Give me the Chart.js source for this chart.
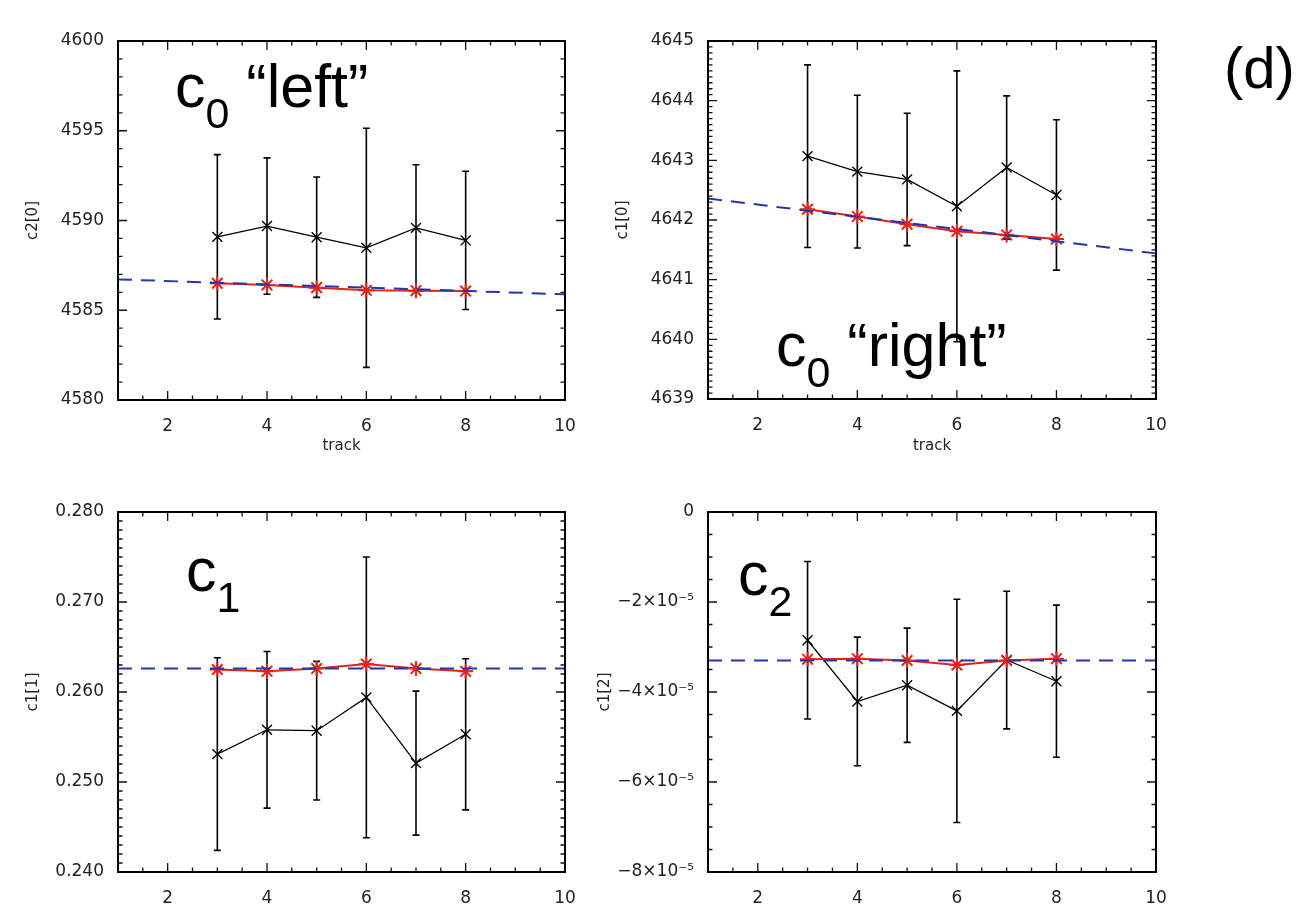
<!DOCTYPE html>
<html>
<head>
<meta charset="utf-8">
<title>track fits (d)</title>
<script src="https://cdn.jsdelivr.net/npm/chart.js@4.4.1/dist/chart.umd.min.js"></script>
<style>
  body { margin: 0; background: #fff; }
  #wrap { position: relative; width: 1306px; height: 909px; overflow: hidden; background: #fff; }
  canvas { position: absolute; }
  .note { position: absolute; font-family: "Liberation Sans", Arial, sans-serif; font-size: 61px; line-height: 1; color: #000; white-space: nowrap; }
  .note sub { font-size: 43px; vertical-align: -21px; line-height: 1; }
</style>
</head>
<body>
<div id="wrap">
  <canvas id="p1" width="600" height="470" style="left:0;top:0"></canvas>
  <canvas id="p2" width="736" height="470" style="left:570px;top:0"></canvas>
  <canvas id="p3" width="600" height="439" style="left:0;top:470px"></canvas>
  <canvas id="p4" width="736" height="439" style="left:570px;top:470px"></canvas>
  <div class="note" style="left:175px;top:56px">c<sub>0</sub> “left”</div>
  <div class="note" style="left:776px;top:315px">c<sub>0</sub> “right”</div>
  <div class="note" style="left:186px;top:540px">c<sub>1</sub></div>
  <div class="note" style="left:738px;top:544px">c<sub>2</sub></div>
  <div class="note" style="left:1224px;top:39px;font-size:58px">(d)</div>
</div>
<script>
Chart.defaults.font.family = "'DejaVu Sans', sans-serif"
Chart.defaults.color = '#222'

// shared x values
const tracks = [3, 4, 5, 6, 7, 8]
const lineX = [1, 10]
const xTicks = [2, 4, 6, 8, 10]

// c2[0]  (c0 "left")
const leftMeas = [4589.09, 4589.69, 4589.07, 4588.48, 4589.59, 4588.89]
const leftErr = [4.58, 3.80, 3.35, 6.66, 3.52, 3.85]
const leftFit = [4586.50, 4586.41, 4586.26, 4586.11, 4586.09, 4586.07]
const leftLine = [4586.72, 4585.89]
const leftTicks = [4580, 4585, 4590, 4595, 4600]

// c1[0]  (c0 "right")
const rightMeas = [4643.07, 4642.81, 4642.68, 4642.23, 4642.88, 4642.42]
const rightErr = [1.53, 1.28, 1.11, 2.27, 1.20, 1.26]
const rightFit = [4642.18, 4642.06, 4641.93, 4641.81, 4641.75, 4641.68]
const rightLine = [4642.36, 4641.44]
const rightTicks = [4639, 4640, 4641, 4642, 4643, 4644, 4645]

// c1[1]
const c1Meas = [0.2531, 0.2558, 0.2557, 0.2594, 0.2521, 0.2553]
const c1Err = [0.0107, 0.0087, 0.0077, 0.0156, 0.0080, 0.0084]
const c1Fit = [0.2625, 0.2623, 0.2626, 0.2631, 0.2626, 0.2623]
const c1Line = [0.2626, 0.2626]
const c1Ticks = [0.240, 0.250, 0.260, 0.270, 0.280]

// c1[2]
const c2Meas = [-2.85e-5, -4.21e-5, -3.85e-5, -4.42e-5, -3.29e-5, -3.76e-5]
const c2Err = [1.75e-5, 1.43e-5, 1.27e-5, 2.48e-5, 1.53e-5, 1.69e-5]
const c2Fit = [-3.27e-5, -3.26e-5, -3.30e-5, -3.40e-5, -3.30e-5, -3.26e-5]
const c2Line = [-3.30e-5, -3.30e-5]
const c2Ticks = [-8e-5, -6e-5, -4e-5, -2e-5, 0]
const c2Labels = ['−8×10⁻⁵', '−6×10⁻⁵', '−4×10⁻⁵', '−2×10⁻⁵', '0']

// box + inward ticks on all four sides (IDL look)
const frame = p => ({
  id: 'frame',
  afterDraw(chart) {
    const {ctx, chartArea: a, scales: {x, y}} = chart
    ctx.save()
    ctx.strokeStyle = '#111'
    ctx.lineWidth = 1.3
    ctx.beginPath()
    const nx = Math.round((x.max - x.min) / 0.5)
    for (let i = 1; i < nx; i++) {
      const v = x.min + i * 0.5
      const len = xTicks.includes(v) ? 9 : 4.5
      const px = x.getPixelForValue(v)
      ctx.moveTo(px, a.bottom); ctx.lineTo(px, a.bottom - len)
      ctx.moveTo(px, a.top); ctx.lineTo(px, a.top + len)
    }
    const ny = Math.round((y.max - y.min) / p.minor)
    for (let i = 1; i < ny; i++) {
      const v = y.min + i * p.minor
      const major = p.ticks.some(t => Math.abs(t - v) < p.minor / 10)
      const len = major ? 9 : 4.5
      const py = y.getPixelForValue(v)
      ctx.moveTo(a.left, py); ctx.lineTo(a.left + len, py)
      ctx.moveTo(a.right, py); ctx.lineTo(a.right - len, py)
    }
    ctx.stroke()
    ctx.lineWidth = 2
    ctx.strokeStyle = '#000'
    ctx.strokeRect(a.left, a.top, a.width, a.height)
    ctx.restore()
  }
})

const errbars = p => ({
  id: 'errbars',
  beforeDatasetsDraw(chart) {
    const {ctx, scales: {x, y}} = chart
    ctx.save()
    ctx.strokeStyle = '#000'
    ctx.lineWidth = 1.6
    ctx.beginPath()
    tracks.forEach((t, i) => {
      const px = x.getPixelForValue(t)
      const top = y.getPixelForValue(p.meas[i] + p.err[i])
      const bot = y.getPixelForValue(p.meas[i] - p.err[i])
      ctx.moveTo(px, top); ctx.lineTo(px, bot)
      ctx.moveTo(px - 3.5, top); ctx.lineTo(px + 3.5, top)
      ctx.moveTo(px - 3.5, bot); ctx.lineTo(px + 3.5, bot)
    })
    ctx.stroke()
    ctx.restore()
  }
})

function makePanel(id, p) {
  return new Chart(document.getElementById(id), {
    type: 'line',
    data: {
      datasets: [
        {
          data: lineX.map((x, i) => ({x, y: p.line[i]})),
          borderColor: '#2535ab', borderWidth: 2, borderDash: [14, 9], pointRadius: 0
        },
        {
          data: tracks.map((x, i) => ({x, y: p.fit[i]})),
          borderColor: '#e3221c', borderWidth: 2,
          pointStyle: 'star', pointRadius: 7.5, pointBorderWidth: 2,
          pointBorderColor: '#e3221c', pointBackgroundColor: '#e3221c'
        },
        {
          data: tracks.map((x, i) => ({x, y: p.meas[i]})),
          borderColor: '#000', borderWidth: 1.2,
          pointStyle: 'crossRot', pointRadius: 7, pointBorderWidth: 1.4,
          pointBorderColor: '#000'
        }
      ]
    },
    options: {
      responsive: false,
      animation: false,
      layout: {padding: p.pad},
      plugins: {legend: {display: false}, tooltip: {enabled: false}},
      scales: {
        x: {
          type: 'linear', min: 1, max: 10,
          grid: {display: false}, border: {display: false},
          afterBuildTicks: s => { s.ticks = xTicks.map(v => ({value: v})) },
          afterFit: s => { s.height = p.xh },
          ticks: {font: {size: 17}, padding: 8, maxRotation: 0, autoSkip: false},
          title: {display: p.xTitle, text: 'track', font: {size: 15}, padding: {top: 0, bottom: 15}}
        },
        y: {
          type: 'linear', min: p.ticks[0], max: p.ticks[p.ticks.length - 1],
          grid: {display: false}, border: {display: false},
          afterBuildTicks: s => { s.ticks = p.ticks.map(v => ({value: v})) },
          afterFit: s => { s.width = p.yw },
          ticks: {font: {size: 17}, padding: 6, autoSkip: false, callback: (v, i) => p.labels[i]},
          title: {display: true, text: p.title, font: {size: 15}, padding: {top: p.tp, bottom: 0}}
        }
      }
    },
    plugins: [errbars(p), frame(p)]
  })
}

makePanel('p1', {
  meas: leftMeas, err: leftErr, fit: leftFit, line: leftLine,
  ticks: leftTicks, labels: leftTicks.map(String), minor: 1, title: 'c2[0]',
  pad: {left: 0, top: 41, right: 35, bottom: 0}, yw: 118, xh: 70, tp: 24, xTitle: true
})
makePanel('p2', {
  meas: rightMeas, err: rightErr, fit: rightFit, line: rightLine,
  ticks: rightTicks, labels: rightTicks.map(String), minor: 0.1, title: 'c1[0]',
  pad: {left: 0, top: 41, right: 150, bottom: 0}, yw: 138, xh: 71, tp: 44, xTitle: true
})
makePanel('p3', {
  meas: c1Meas, err: c1Err, fit: c1Fit, line: c1Line,
  ticks: c1Ticks, labels: c1Ticks.map(v => v.toFixed(3)), minor: 0.001, title: 'c1[1]',
  pad: {left: 0, top: 42, right: 35, bottom: 0}, yw: 118, xh: 37, tp: 24, xTitle: false
})
makePanel('p4', {
  meas: c2Meas, err: c2Err, fit: c2Fit, line: c2Line,
  ticks: c2Ticks, labels: c2Labels, minor: 0.5e-5, title: 'c1[2]',
  pad: {left: 0, top: 42, right: 150, bottom: 0}, yw: 138, xh: 37, tp: 26, xTitle: false
})
</script>
</body>
</html>
